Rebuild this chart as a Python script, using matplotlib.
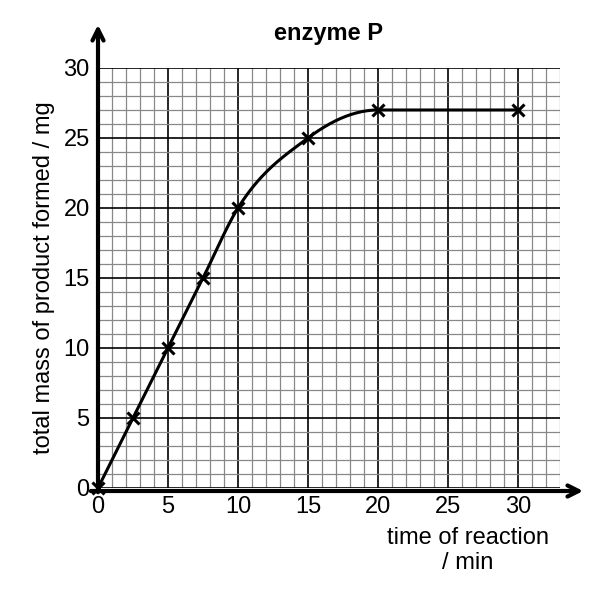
import numpy as np
import matplotlib
matplotlib.use("Agg")
import matplotlib.pyplot as plt

times = [0, 2.5, 5, 7.5, 10, 15, 20, 30]
mass = [0, 5, 10, 15, 20, 25, 27, 27]
xticks = [0, 5, 10, 15, 20, 25, 30]
yticks = [0, 5, 10, 15, 20, 25, 30]
slopes = [2, 2, 2, 2, 1.6, 0.75, 0, 0]

plt.rcParams['font.family'] = ['Liberation Sans', 'DejaVu Sans']
fig = plt.figure(figsize=(5.94, 6.08), dpi=100)
ax = fig.add_axes([98/594, 1-488/608, 462/594, 420/608])
ax.set_xlim(0, 33)
ax.set_ylim(0, 30)
for v in np.arange(0, 34):
    ax.axvline(v, color='black' if v % 5 == 0 else '#888888', lw=1.2 if v % 5 == 0 else 0.9, zorder=1)
for v in np.arange(0, 31):
    ax.axhline(v, color='black' if v % 5 == 0 else '#888888', lw=1.2 if v % 5 == 0 else 0.9, zorder=1)
for s in ax.spines.values():
    s.set_visible(False)

# smooth curve: piecewise cubic Hermite through the points
xs, ys = [], []
for i in range(len(times)-1):
    x0, x1 = times[i], times[i+1]
    y0, y1 = mass[i], mass[i+1]
    m0, m1 = slopes[i], slopes[i+1]
    h = x1 - x0
    t = np.linspace(0, 1, 40)
    h00 = 2*t**3-3*t**2+1; h10 = t**3-2*t**2+t; h01 = -2*t**3+3*t**2; h11 = t**3-t**2
    xs.extend(x0 + t*h)
    ys.extend(h00*y0 + h10*h*m0 + h01*y1 + h11*h*m1)
ax.plot(xs, ys, color='black', lw=2.2, zorder=3, clip_on=False)
ax.plot(times, mass, 'x', color='black', ms=8, mew=2.2, zorder=4, clip_on=False)

ax.set_xticks(xticks)
ax.set_yticks(yticks)
ax.tick_params(labelsize=17, length=0, pad=6)
ax.set_xlabel('time of reaction\n/ min', fontsize=17, labelpad=6, ha='center', x=0.8)
ax.set_ylabel('total mass of product formed / mg', fontsize=17, labelpad=6)
ax.set_title('enzyme P', fontsize=17, fontweight='bold', pad=20)

# axes with arrows
kw = dict(arrowprops=dict(arrowstyle='->,head_length=0.8,head_width=0.4', lw=3, color='black'), xycoords='figure pixels', textcoords='figure pixels')
ax.annotate('', xy=(98, 608-22), xytext=(98, 608-495), **kw)
ax.annotate('', xy=(586, 608-491), xytext=(88, 608-491), **kw)
fig.savefig('out.png', dpi=100)
